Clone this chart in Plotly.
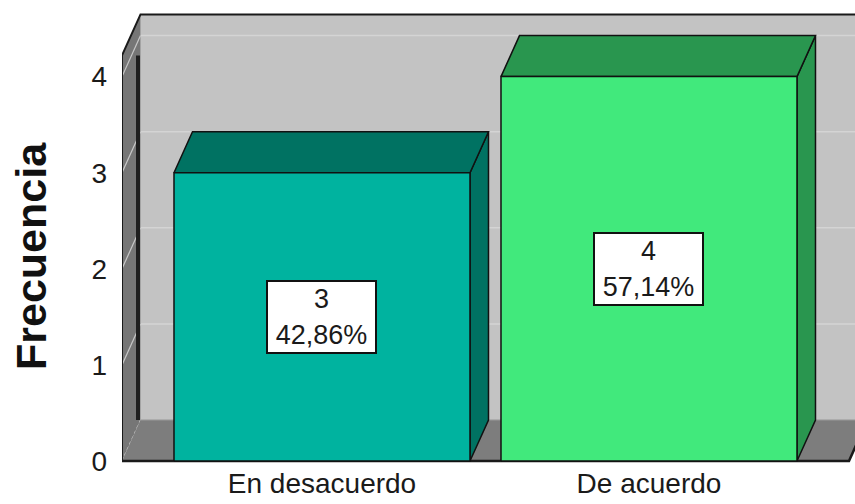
import plotly.graph_objects as go

# ---- data ----
categorias = ["En desacuerdo", "De acuerdo"]
frecuencia = [3, 4]
porcentajes = ["42,86%", "57,14%"]
y_ticks = [0, 1, 2, 3, 4]
titulo_y = "Frecuencia"

# ---- style / geometry (axis units) ----
front_colors = ["#00b39f", "#41e97c"]
dark_colors = ["#007262", "#29964f"]
UX, UY = 327.0, 96.1            # px per unit (for depth conversion)
XL, XR = -0.6116, 1.6116        # floor extent (front plane)
DX, DY = 18.5 / UX, 41.0 / UY   # 3D depth offset
WALL_TOP = 4.22
HALF = 0.4526
XMAX = 3.0
FONT = "Liberation Sans, Arial"

fig = go.Figure()

def poly(xs, ys, fill, line_color=None, lw=0, dash=None):
    fig.add_trace(go.Scatter(
        x=xs + [xs[0]], y=ys + [ys[0]], mode="lines", fill="toself",
        fillcolor=fill,
        line=dict(color=line_color or fill, width=lw if lw else 0.1, dash=dash),
        hoverinfo="skip", showlegend=False))

def line(xs, ys, color, width, dash=None):
    fig.add_trace(go.Scatter(
        x=xs, y=ys, mode="lines", line=dict(color=color, width=width, dash=dash),
        hoverinfo="skip", showlegend=False))

# back wall
poly([XL + DX, XMAX, XMAX, XL + DX], [DY, DY, WALL_TOP + DY, WALL_TOP + DY], "#c3c3c3")
for k in y_ticks[1:]:
    line([XL + DX, XMAX], [k + DY, k + DY], "#d4d4d4", 1.5)
# left wall
poly([XL, XL, XL + DX, XL + DX], [0, WALL_TOP, WALL_TOP + DY, DY], "#767676")
for k in y_ticks[1:]:
    line([XL, XL + DX], [k, k + DY], "#c8c8c8", 1.2)
line([XL, XL + DX], [0, DY], "#c8c8c8", 1.2, "dot")
# floor
poly([XL, XR, XR + DX, XL + DX], [0, 0, DY, DY], "#7d7d7d")
line([XL + DX, XMAX], [DY, DY], "#9a9a9a", 1)
# edges
line([XL + DX - 2.5 / UX] * 2, [DY, WALL_TOP], "#1e1e1e", 4)
line([XL, XL, XL + DX, XMAX], [0, WALL_TOP, WALL_TOP + DY, WALL_TOP + DY], "#1a1a1a", 2)
line([XL, XR, XR + DX], [0, 0, DY], "#1a1a1a", 2.5)

# bars
for i, v in enumerate(frecuencia):
    x0, x1 = i - HALF, i + HALF
    poly([x1, x1 + DX, x1 + DX, x1], [0, DY, v + DY, v], dark_colors[i], "#111", 1.5)
    poly([x0, x1, x1 + DX, x0 + DX], [v, v, v + DY, v + DY], dark_colors[i], "#111", 1.5)
    poly([x0, x1, x1, x0], [0, 0, v, v], front_colors[i], "#111", 1.5)
    fig.add_annotation(x=i, y=v / 2, text=f"{v}<br>{porcentajes[i]}", showarrow=False,
                       font=dict(family=FONT, size=27, color="#1a1a1a"),
                       width=107, height=70, align="center", valign="middle",
                       bgcolor="white", bordercolor="#111", borderwidth=2, borderpad=0)

fig.add_annotation(xref="paper", yref="paper", x=0, y=(464 - 256) / 464, xshift=-91,
                   xanchor="center", yanchor="middle", textangle=-90, showarrow=False,
                   text=f"<b>{titulo_y}</b>",
                   font=dict(family=FONT, size=43, color="#111"))

fig.update_layout(
    width=855, height=504, margin=dict(l=122, r=0, t=0, b=40),
    paper_bgcolor="white", plot_bgcolor="white",
    font=dict(family=FONT, color="#1a1a1a"),
    xaxis=dict(range=[XL, 1.630], tickvals=list(range(len(categorias))), ticktext=categorias,
               showgrid=False, zeroline=False, showline=False, ticks="", ticklabelstandoff=0,
               tickfont=dict(size=28, color="#1a1a1a"), fixedrange=True),
    yaxis=dict(range=[-3 / UY, 461 / UY], tickvals=y_ticks, showgrid=False, zeroline=False,
               showline=False, ticks="", ticklabelstandoff=14,
               tickfont=dict(size=28, color="#1a1a1a"), fixedrange=True),
)

fig.write_html("out.html")
